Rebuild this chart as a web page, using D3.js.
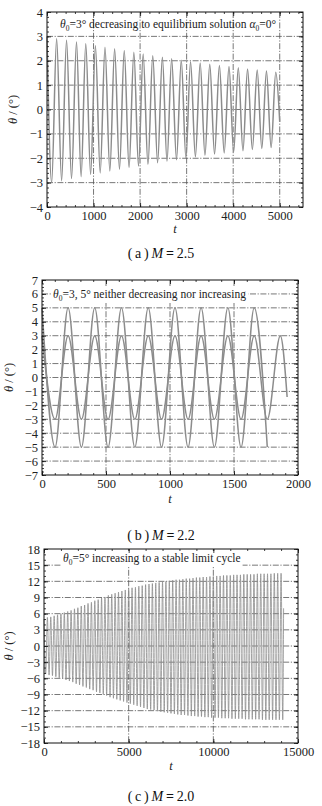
<!DOCTYPE html>
<html>
<head>
<meta charset="utf-8">
<script src="https://cdn.jsdelivr.net/npm/d3@7"></script>
<style>
  body { margin: 0; background: #fff; }
  svg { display: block; }
  svg text { font-family: "Liberation Serif", "Times New Roman", "DejaVu Serif", serif; }
  .grid { stroke: #555; stroke-width: 0.8; stroke-dasharray: 6,1.6,1.2,1.6; fill: none; }
  .trace { fill: none; stroke: #8c8c8c; }
  .frame { fill: none; stroke: #111; stroke-width: 1; }
  .axis path { display: none; }
  .axis line { stroke: #111; stroke-width: 0.8; }
  .axis text { font-size: 12.5px; fill: #222; }
</style>
</head>
<body>
<script>
// ---------- (a) M = 2.5 : extrema of the decaying oscillation ----------
const aT = [0, 100, 207, 314, 420, 527, 634, 733, 833, 937, 1040, 1143, 1246, 1350, 1453, 1557,
            1660, 1763, 1866, 1966, 2066, 2169, 2272, 2376, 2479, 2578, 2678, 2782, 2885, 2985,
            3084, 3188, 3291, 3394, 3497, 3600, 3704, 3807, 3910, 4010, 4110, 4210, 4309, 4412,
            4516, 4615, 4715, 4815, 4915, 5000]
const aTheta = [3.0, -3.0, 2.9, -2.92, 2.84, -2.83, 2.77, -2.75, 2.7, -2.66, 2.62, -2.6, 2.55, -2.52,
                2.49, -2.45, 2.42, -2.38, 2.35, -2.32, 2.28, -2.25, 2.21, -2.18, 2.14, -2.12, 2.08,
                -2.06, 2.02, -2.0, 1.96, -1.94, 1.91, -1.88, 1.86, -1.83, 1.81, -1.78, 1.76, -1.74,
                1.71, -1.69, 1.66, -1.64, 1.62, -1.6, 1.58, -1.56, 1.53, -0.5]
const aXTicks = [0, 1000, 2000, 3000, 4000, 5000]
const aYTicks = [-4, -3, -2, -1, 0, 1, 2, 3, 4]

// ---------- (b) M = 2.2 : two runs, theta0 = 3 and 5 ----------
const bT = [0, 102, 204, 308, 412, 516, 621, 725, 830, 934, 1039, 1141, 1243, 1347, 1452, 1555,
            1658, 1760, 1862, 1915]
const bTheta3 = [3, -3, 3, -3, 3, -3, 3, -3, 3, -3, 3, -3, 3, -3, 3, -3, 3, -3, 3, -1.4]
const bTheta5 = [5, -5, 5, -5, 5, -5, 5, -5, 5, -5, 5, -5, 5, -5, 5, -5, 5, -5]
const bXTicks = [0, 500, 1000, 1500, 2000]
const bYTicks = [-7, -6, -5, -4, -3, -2, -1, 0, 1, 2, 3, 4, 5, 6, 7]

// ---------- (c) M = 2.0 : growth to a limit cycle ----------
const cPeriod = 200
const cPeaks = [5.0, 5.3, 5.4, 5.6, 5.8, 6.0, 6.2, 6.4, 6.6, 6.9,
                7.1, 7.4, 7.6, 7.9, 8.1, 8.4, 8.6, 8.9, 9.1, 9.4,
                9.6, 9.8, 10.0, 10.2, 10.4, 10.6, 10.8, 10.9, 11.1, 11.2,
                11.4, 11.5, 11.6, 11.7, 11.8, 11.9, 12.0, 12.1, 12.2, 12.3,
                12.3, 12.4, 12.5, 12.5, 12.6, 12.7, 12.7, 12.8, 12.8, 12.9,
                12.9, 13.0, 13.0, 13.1, 13.1, 13.1, 13.2, 13.2, 13.2, 13.3,
                13.3, 13.3, 13.3, 13.4, 13.4, 13.4, 13.4, 13.4, 13.5, 13.5, 13.5]
const cTroughs = [-5.2, -5.4, -5.5, -5.7, -5.9, -6.1, -6.3, -6.5, -6.7, -7.0,
                  -7.2, -7.5, -7.7, -8.0, -8.2, -8.5, -8.7, -9.0, -9.2, -9.5,
                  -9.7, -9.9, -10.1, -10.3, -10.5, -10.7, -10.9, -11.1, -11.3, -11.5,
                  -11.7, -11.8, -11.9, -12.1, -12.2, -12.3, -12.4, -12.5, -12.6, -12.7,
                  -12.8, -12.8, -12.9, -13.0, -13.0, -13.1, -13.1, -13.2, -13.2, -13.3,
                  -13.3, -13.3, -13.4, -13.4, -13.4, -13.5, -13.5, -13.5, -13.5, -13.6,
                  -13.6, -13.6, -13.6, -13.6, -13.7, -13.7, -13.7, -13.7, -13.7, -13.7, -13.7]
const cLast = [14150, 7]
const cXTicks = [0, 5000, 10000, 15000]
const cYTicks = [-18, -15, -12, -9, -6, -3, 0, 3, 6, 9, 12, 15, 18]

// build point lists
let zip = (ts, vs) => vs.map((v, i) => [ts[i], v])
let cPoints = []
cPeaks.forEach((p, i) => {
    cPoints.push([i * cPeriod, p])
    cPoints.push([i * cPeriod + cPeriod / 2, cTroughs[i]])
})
cPoints.push(cLast)

const panels = [
    {
        left: 47, right: 303, top: 12, bottom: 207,
        xDomain: [0, 5500], yDomain: [-4, 4],
        xTicks: aXTicks, yTicks: aYTicks, xMinor: 200, yMinor: 0.2,
        vGrid: [1000, 2000, 3000, 4000, 5000], hGrid: [-3, -2, -1, 0, 1, 2, 3],
        series: [{pts: zip(aT, aTheta), w: 1.5}],
        note: {x: 60, y: 28, size: 11.5, parts: [["θ", "i"], ["0", "s"], ["=3° decreasing to equilibrium solution ", ""], ["α", "i"], ["0", "s"], ["=0°", ""]], bg: false},
        yTitleX: 17, tY: 233, caption: ["a", "2.5"], capY: 258
    },
    {
        left: 42, right: 298, top: 280, bottom: 475,
        xDomain: [0, 2000], yDomain: [-7, 7],
        xTicks: bXTicks, yTicks: bYTicks, xMinor: 100, yMinor: 0.25,
        vGrid: [500, 1000, 1500], hGrid: [-6, -5, -4, -3, -2, -1, 0, 1, 2, 3, 4, 5, 6],
        series: [{pts: zip(bT, bTheta5), w: 1.5}, {pts: zip(bT, bTheta3), w: 1.5}],
        note: {x: 53, y: 298, size: 11.5, parts: [["θ", "i"], ["0", "s"], ["=3, 5° neither decreasing nor increasing", ""]], bg: true},
        yTitleX: 13, tY: 503, caption: ["b", "2.2"], capY: 540
    },
    {
        left: 44, right: 298, top: 549, bottom: 743,
        xDomain: [0, 15000], yDomain: [-18, 18],
        xTicks: cXTicks, yTicks: cYTicks, xMinor: 1000, yMinor: 1,
        vGrid: [5000, 10000], hGrid: [-15, -12, -9, -6, -3, 0, 3, 6, 9, 12, 15],
        series: [{pts: cPoints, w: 0.8}],
        note: {x: 63, y: 562, size: 11.5, parts: [["θ", "i"], ["0", "s"], ["=5° increasing to a stable limit cycle", ""]], bg: true},
        yTitleX: 13, tY: 770, caption: ["c", "2.0"], capY: 801
    }
]

let svg = d3.select("body").append("svg").attr("width", 322).attr("height", 806)

panels.forEach(drawPanel)

function drawPanel(p) {
    let g = svg.append("g")
    let x = d3.scaleLinear().domain(p.xDomain).range([p.left, p.right])
    let y = d3.scaleLinear().domain(p.yDomain).range([p.bottom, p.top])

    // dash-dot grid
    g.selectAll(".hg").data(p.hGrid).join("line").attr("class", "grid")
        .attr("x1", p.left).attr("x2", p.right)
        .attr("y1", d => y(d)).attr("y2", d => y(d))
    g.selectAll(".vg").data(p.vGrid).join("line").attr("class", "grid")
        .attr("y1", p.top).attr("y2", p.bottom)
        .attr("x1", d => x(d)).attr("x2", d => x(d))

    // traces
    let line = d3.line().x(d => x(d[0])).y(d => y(d[1])).curve(d3.curveMonotoneX)
    p.series.forEach(s => {
        g.append("path").datum(s.pts).attr("class", "trace")
            .attr("stroke-width", s.w).attr("d", line)
    })

    // annotation
    let note = g.append("text").attr("x", p.note.x).attr("y", p.note.y)
        .attr("font-size", p.note.size).attr("fill", "#222")
    let shift = 0
    p.note.parts.forEach(part => {
        let ts = note.append("tspan").text(part[0])
        if (part[1] == "i") ts.attr("font-style", "italic")
        if (part[1] == "s") { ts.attr("font-size", p.note.size * 0.65).attr("dy", 3); shift = 3 }
        else if (shift) { ts.attr("dy", -shift); shift = 0 }
    })
    if (p.note.bg) {
        let bb = note.node().getBBox()
        g.insert("rect", "text").attr("x", bb.x - 2).attr("y", bb.y - 1)
            .attr("width", bb.width + 4).attr("height", bb.height + 1).attr("fill", "#fff")
    }

    // frame
    g.append("rect").attr("class", "frame").attr("x", p.left).attr("y", p.top)
        .attr("width", p.right - p.left).attr("height", p.bottom - p.top)

    // axes, ticks pointing inward on all four sides
    let xMinor = d3.range(p.xDomain[0], p.xDomain[1] + 1e-9, p.xMinor)
    let yMinor = d3.range(p.yDomain[0], p.yDomain[1] + 1e-9, p.yMinor)
    let fmt = d3.format("")
    g.append("g").attr("class", "axis").attr("transform", `translate(0,${p.bottom})`)
        .call(d3.axisBottom(x).tickValues(p.xTicks).tickSizeInner(-4).tickSizeOuter(0).tickPadding(4).tickFormat(fmt))
    g.append("g").attr("class", "axis").attr("transform", `translate(0,${p.bottom})`)
        .call(d3.axisBottom(x).tickValues(xMinor).tickSizeInner(-2).tickSizeOuter(0).tickFormat(""))
    g.append("g").attr("class", "axis").attr("transform", `translate(0,${p.top})`)
        .call(d3.axisTop(x).tickValues(p.xTicks).tickSizeInner(-4).tickSizeOuter(0).tickFormat(""))
    g.append("g").attr("class", "axis").attr("transform", `translate(0,${p.top})`)
        .call(d3.axisTop(x).tickValues(xMinor).tickSizeInner(-2).tickSizeOuter(0).tickFormat(""))
    g.append("g").attr("class", "axis").attr("transform", `translate(${p.left},0)`)
        .call(d3.axisLeft(y).tickValues(p.yTicks).tickSizeInner(-4).tickSizeOuter(0).tickPadding(4).tickFormat(fmt))
    g.append("g").attr("class", "axis").attr("transform", `translate(${p.left},0)`)
        .call(d3.axisLeft(y).tickValues(yMinor).tickSizeInner(-2).tickSizeOuter(0).tickFormat(""))
    g.append("g").attr("class", "axis").attr("transform", `translate(${p.right},0)`)
        .call(d3.axisRight(y).tickValues(p.yTicks).tickSizeInner(-4).tickSizeOuter(0).tickFormat(""))
    g.append("g").attr("class", "axis").attr("transform", `translate(${p.right},0)`)
        .call(d3.axisRight(y).tickValues(yMinor).tickSizeInner(-2).tickSizeOuter(0).tickFormat(""))

    // y title
    let yt = g.append("text").attr("transform", `translate(${p.yTitleX},${(p.top + p.bottom) / 2}) rotate(-90)`)
        .attr("text-anchor", "middle").attr("font-size", 12.5).attr("fill", "#222")
    yt.append("tspan").attr("font-style", "italic").text("θ")
    yt.append("tspan").text(" / (°)")

    // x title
    g.append("text").attr("x", (p.left + p.right) / 2).attr("y", p.tY)
        .attr("text-anchor", "middle").attr("font-size", 12.5).attr("font-style", "italic")
        .attr("fill", "#222").text("t")

    // caption
    let cap = g.append("text").attr("x", 161).attr("y", p.capY).attr("text-anchor", "middle")
        .attr("font-size", 14).attr("fill", "#111")
    cap.append("tspan").text("(\u2009" + p.caption[0] + "\u2009)\u2009")
    cap.append("tspan").attr("font-style", "italic").text("M")
    cap.append("tspan").attr("font-weight", "bold").text("\u2009=\u2009")
    cap.append("tspan").text(p.caption[1])
}
</script>
</body>
</html>
